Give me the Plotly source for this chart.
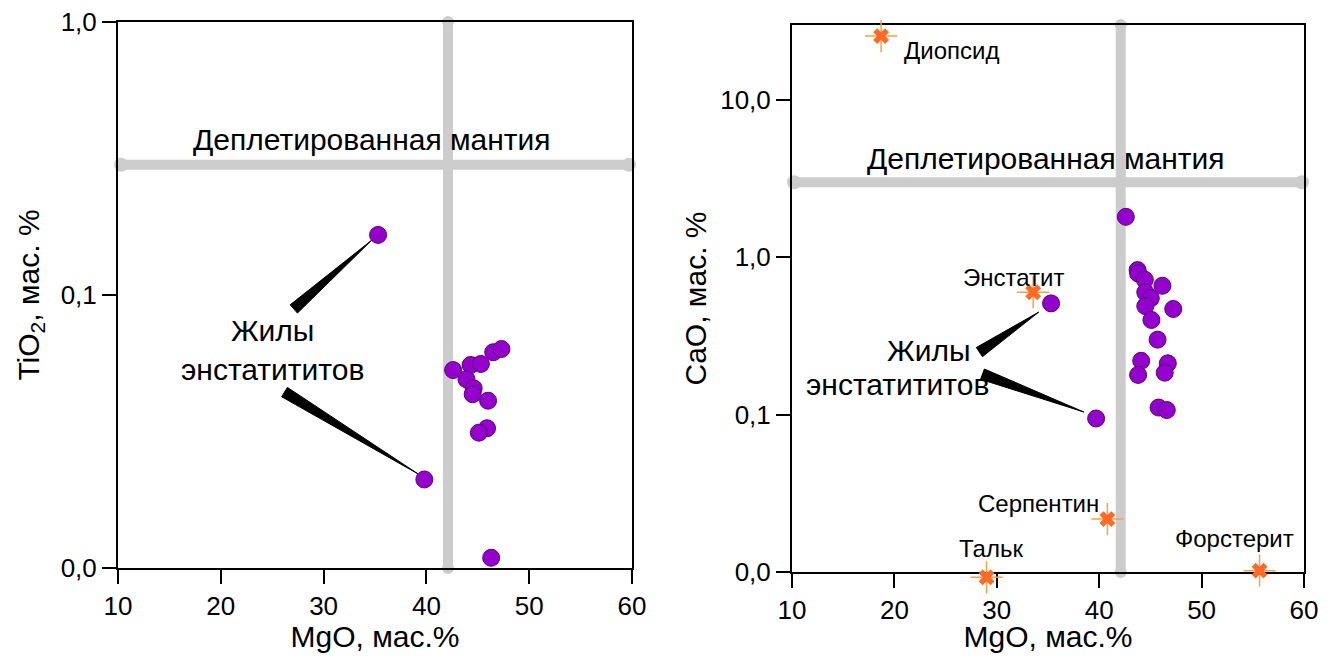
import numpy as np
import plotly.graph_objects as go
from plotly.subplots import make_subplots

# --- data ---
# left panel: TiO2 vs MgO (enstatitite veins)
left_mgo = [35.3, 39.8, 42.6, 44.3, 45.3, 46.5, 47.3, 43.9, 44.6, 44.5, 46.0, 45.9, 45.1, 46.3]
left_tio2 = [0.166, 0.0211, 0.0531, 0.0554, 0.0559, 0.0617, 0.0634, 0.0491, 0.0455,
             0.0433, 0.0410, 0.0325, 0.0313, 0.0109]

# right panel: CaO vs MgO (enstatitite veins)
right_mgo = [42.6, 43.75, 43.8, 44.46, 46.17, 44.5, 45.04, 44.5, 47.23, 45.1, 45.7,
             44.1, 46.7, 43.8, 46.4, 45.8, 46.6, 39.7, 35.3]
right_cao = [1.81, 0.83, 0.79, 0.72, 0.66, 0.60, 0.55, 0.49, 0.47, 0.40, 0.30,
             0.220, 0.212, 0.179, 0.185, 0.111, 0.107, 0.0946, 0.51]

# minerals (right panel)
mineral_names = ["Диопсид", "Энстатит", "Серпентин", "Тальк", "Форстерит"]
mineral_mgo = [18.7, 33.55, 40.8, 29.0, 55.66]
mineral_cao = [25.5, 0.60, 0.0217, 0.00925, 0.0102]

# depleted mantle reference lines
dm_mgo = 42.1
dm_tio2 = 0.30
dm_cao = 3.0

x_ticks = [10, 20, 30, 40, 50, 60]
left_yticks = [0.01, 0.1, 1]
left_yticktext = ["0,0", "0,1", "1,0"]
right_yticks = [0.01, 0.1, 1, 10]
right_yticktext = ["0,0", "0,1", "1,0", "10,0"]

FONT = "Liberation Sans, Arial, sans-serif"
PURPLE = "#9400cc"
GRAY = "#cccccc"
ORANGE = "#ff6a28"

# page body has an 8px margin, so the figure is 16px smaller than the window
W, H = 1313, 645
OFF = 8

# plot boxes in window pixels (left, right, top, bottom)
left_box = (118, 632, 22, 568)
right_box = (792, 1304, 25, 572)
left_yrange = [-2, 0]
right_yrange = [-2, np.log10(30)]


def xdom(box):
    return [(box[0] - OFF) / W, (box[1] - OFF) / W]


def ydom(box, extra=0):
    return [1 - (box[3] - OFF + extra) / H, 1 - (box[2] - OFF) / H]


fig = make_subplots(rows=1, cols=2)


def wedge(base, tip, kx, ky, half=5.5):
    """thin black triangle from text (base) to a point (tip), built in screen units"""
    bx, by = base[0] * kx, np.log10(base[1]) * ky
    tx, ty = tip[0] * kx, np.log10(tip[1]) * ky
    dx, dy = tx - bx, ty - by
    n = np.hypot(dx, dy)
    px, py = -dy / n * half, dx / n * half
    xs = [bx + px, tx, bx - px, bx + px]
    ys = [by + py, ty, by - py, by + py]
    return [v / kx for v in xs], [10 ** (v / ky) for v in ys]


def add_dm_lines(col, y_val, y_top, x_left, x_right):
    # horizontal
    fig.add_trace(go.Scatter(
        x=[x_left, x_right], y=[y_val, y_val], mode="lines+markers",
        line=dict(color=GRAY, width=10), marker=dict(color=GRAY, size=14),
        showlegend=False, hoverinfo="skip", cliponaxis=False), row=1, col=col)
    # vertical
    fig.add_trace(go.Scatter(
        x=[dm_mgo, dm_mgo], y=[0.01, y_top], mode="lines+markers",
        line=dict(color=GRAY, width=10), marker=dict(color=GRAY, size=12),
        showlegend=False, hoverinfo="skip", cliponaxis=False), row=1, col=col)


add_dm_lines(1, dm_tio2, 1.0, 10.3, 59.7)
add_dm_lines(2, dm_cao, 30.0, 10.2, 59.8)

# pointer wedges
left_k = ((left_box[1] - left_box[0]) / 50, (left_box[3] - left_box[2]) / 2)
right_k = ((right_box[1] - right_box[0]) / 50,
           (right_box[3] - right_box[2]) / (right_yrange[1] - right_yrange[0]))
for base, tip in [((27.1, 0.0889), (34.7, 0.159)), ((26.2, 0.0441), (39.2, 0.0221))]:
    xs, ys = wedge(base, tip, *left_k)
    fig.add_trace(go.Scatter(x=xs, y=ys, mode="lines", fill="toself", fillcolor="black",
                             line=dict(color="black", width=1), showlegend=False,
                             hoverinfo="skip"), row=1, col=1)
for base, tip in [((28.3, 0.250), (34.1, 0.449)), ((28.6, 0.181), (38.5, 0.104))]:
    xs, ys = wedge(base, tip, *right_k)
    fig.add_trace(go.Scatter(x=xs, y=ys, mode="lines", fill="toself", fillcolor="black",
                             line=dict(color="black", width=1), showlegend=False,
                             hoverinfo="skip"), row=1, col=2)

# sample points
dot = dict(color=PURPLE, size=17, line=dict(color="#5a0080", width=1))
fig.add_trace(go.Scatter(x=left_mgo, y=left_tio2, mode="markers", marker=dot,
                         showlegend=False), row=1, col=1)
fig.add_trace(go.Scatter(x=right_mgo, y=right_cao, mode="markers", marker=dot,
                         showlegend=False), row=1, col=2)

# minerals: starburst built from two symbols, on a hidden twin axis that reaches
# a little below the frame so that talc (just under 0,0) is still drawn
fig.add_trace(go.Scatter(x=mineral_mgo, y=mineral_cao, mode="markers", cliponaxis=False,
                         xaxis="x2", yaxis="y3",
                         marker=dict(symbol="cross-thin-open", size=23, color="#ffa040",
                                     line=dict(color="#ffa040", width=1.5)),
                         showlegend=False, hoverinfo="skip"))
fig.add_trace(go.Scatter(x=mineral_mgo, y=mineral_cao, mode="markers", text=mineral_names,
                         cliponaxis=False, xaxis="x2", yaxis="y3",
                         marker=dict(symbol="x", size=14, color=ORANGE,
                                     line=dict(width=0)),
                         showlegend=False))

axis_common = dict(
    showline=True, mirror=True, linecolor="black", linewidth=2,
    ticks="outside", ticklen=14, tickwidth=2, tickcolor="black",
    showgrid=False, zeroline=False, automargin=False, ticklabeloverflow="allow",
    tickfont=dict(family=FONT, size=26, color="black"),
)
title_font = dict(family=FONT, size=30, color="black")

fig.update_xaxes(**axis_common, range=[10, 60], tickvals=x_ticks,
                 title=dict(text="MgO, мас.%", font=title_font, standoff=0))
fig.update_xaxes(domain=xdom(left_box), row=1, col=1)
fig.update_xaxes(domain=xdom(right_box), row=1, col=2)

fig.update_yaxes(**axis_common, type="log")
fig.update_yaxes(range=left_yrange, tickvals=left_yticks, ticktext=left_yticktext,
                 domain=ydom(left_box),
                 title=dict(text="TiO<sub>2</sub>, мас. %", font=title_font, standoff=12),
                 row=1, col=1)
fig.update_yaxes(range=right_yrange, tickvals=right_yticks, ticktext=right_yticktext,
                 domain=ydom(right_box),
                 title=dict(text="CaO, мас. %", font=title_font, standoff=5),
                 row=1, col=2)

# hidden twin of y2, extended downwards by 30px with the same px-per-decade
ext = 30
fig.update_layout(yaxis3=dict(
    type="log", visible=False, anchor="x2", domain=ydom(right_box, ext),
    range=[right_yrange[0] - ext / right_k[1], right_yrange[1]],
))

big = dict(family=FONT, size=30, color="black")
small = dict(family=FONT, size=24, color="black")
annotations = [
    # left panel
    dict(x=34.7, y=-0.432, xref="x", yref="y", text="Деплетированная мантия", font=big),
    dict(x=25.0, y=-1.20, xref="x", yref="y", text="Жилы<br>энстатититов", font=big),
    # right panel
    dict(x=34.8, y=0.631, xref="x2", yref="y2", text="Деплетированная мантия", font=big),
    dict(x=23.4, y=-0.589, xref="x2", yref="y2", text="Жилы", font=big),
    dict(x=20.3, y=-0.805, xref="x2", yref="y2", text="энстатититов", font=big),
    dict(x=20.7, y=1.318, xref="x2", yref="y2", text="Диопсид", font=small, xanchor="left"),
    dict(x=31.6, y=-0.125, xref="x2", yref="y2", text="Энстатит", font=small),
    dict(x=40.2, y=-1.562, xref="x2", yref="y2", text="Серпентин", font=small, xanchor="right"),
    dict(x=29.4, y=-1.848, xref="x2", yref="y2", text="Тальк", font=small),
    dict(x=53.2, y=-1.785, xref="x2", yref="y2", text="Форстерит", font=small),
]
for a in annotations:
    a.setdefault("showarrow", False)
    a.setdefault("xanchor", "center")
fig.update_layout(annotations=annotations)

fig.update_layout(
    width=W, height=H,
    margin=dict(l=0, r=0, t=0, b=0),
    plot_bgcolor="rgba(0,0,0,0)", paper_bgcolor="white",
    font=dict(family=FONT, color="black"),
    showlegend=False,
)

fig.write_html("out.html")
